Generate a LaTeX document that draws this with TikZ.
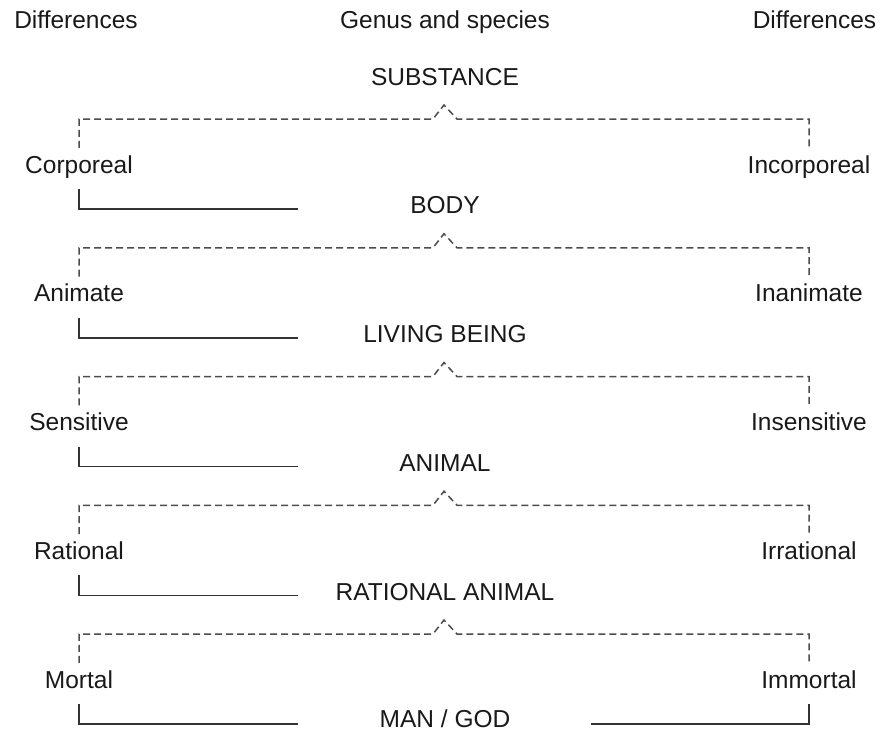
\documentclass[tikz,border=0pt]{standalone}
\usepackage{fontspec}
\setmainfont{Liberation Sans}
\usetikzlibrary{calc}
\begin{document}
\begin{tikzpicture}[x=1pt,y=-1pt,
  lbl/.style={font=\fontsize{24.5}{29}\selectfont, text=black!90, inner sep=0pt,
              anchor=base, text height=18pt, text depth=5pt},
  dashln/.style={draw=black!70, line width=1.5pt, dash pattern=on 7pt off 4pt},
  solidln/.style={draw=black!80, line width=1.5pt}]
\useasboundingbox (0,0) rectangle (881,732);
% headers
\node[lbl] (hl) at (76,28) {Differences};
\node[lbl] (hc) at (445,28) {Genus and species};
\node[lbl] (hr) at (814.5,28) {Differences};
% genus and species
\foreach \k/\t in {0/SUBSTANCE,1/BODY,2/LIVING BEING,3/ANIMAL,4/RATIONAL ANIMAL}{
  \pgfmathsetmacro\yy{85+128.75*\k}
  \node[lbl] (g\k) at (445,\yy) {\t};
}
\node[lbl, text depth=0pt] (g5) at (445,727) {MAN / GOD};
% differences
\foreach \k/\lt/\rt in {1/Corporeal/Incorporeal,2/Animate/Inanimate,3/Sensitive/Insensitive,4/Rational/Irrational,5/Mortal/Immortal}{
  \pgfmathsetmacro\d{119+128.75*(\k-1)}
  \pgfmathsetmacro\yy{\d+54}
  \pgfmathsetmacro\pk{\d-14}
  \pgfmathsetmacro\hz{\d+90}
  \node[lbl] (l\k) at (79,\yy) {\lt};
  \node[lbl] (r\k) at (809,\yy) {\rt};
  \coordinate (cp\k) at (444,\pk);
  \coordinate (e\k) at (298,\hz);
  \draw[dashln] ([yshift=7pt]l\k.north) |- ($(cp\k)+(-11,14)$) -- (cp\k)
     -- ($(cp\k)+(13,14)$) -| ([yshift=7pt]r\k.north);
  \draw[solidln] ([yshift=-11pt]l\k.south) |- (e\k);
}
\coordinate (e5r) at (591,{119+128.75*4+90});
\draw[solidln] ([yshift=-11pt]r5.south) |- (e5r);
\end{tikzpicture}
\end{document}
